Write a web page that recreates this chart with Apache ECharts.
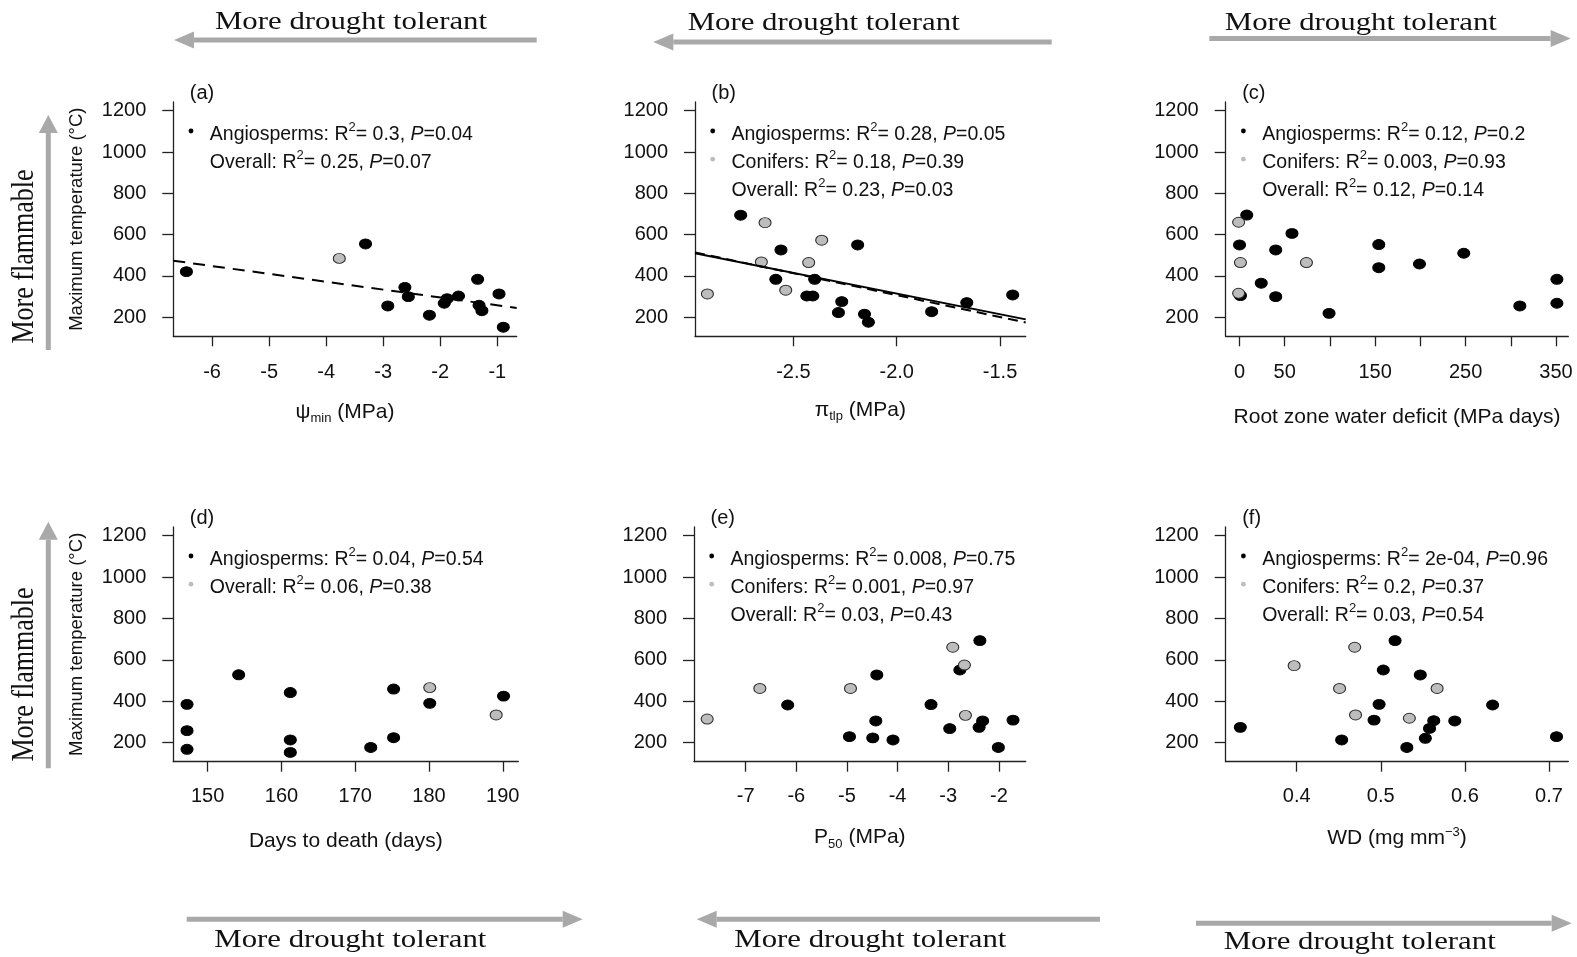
<!DOCTYPE html>
<html>
<head>
<meta charset="utf-8">
<script src="https://cdn.jsdelivr.net/npm/echarts@6/dist/echarts.min.js"></script>
<style>
  html, body { margin: 0; padding: 0; background: #fff; }
  #chart { width: 1577px; height: 957px; }
</style>
</head>
<body>
<div id="chart"></div>
<script>
// ---------------- data ----------------
const yTicks = [200, 400, 600, 800, 1000, 1200];

// (a) minimum water potential
const aTicks = [-6, -5, -4, -3, -2, -1];
const aAngX = [-6.45, -3.31, -2.92, -2.62, -2.56, -2.19, -1.93, -1.88, -1.68, -1.345, -1.32, -1.27, -0.97, -0.895];
const aAngY = [421, 555, 255, 345, 300, 210, 268, 290, 303, 384, 258, 232, 313, 152];
const aConX = [-3.77];
const aConY = [485];
const aLineX = [-6.68, -0.66];
const aLineY = [474, 245];
const statsA = [['Angiosperms', '0.3', '0.04'], ['Overall', '0.25', '0.07']];

// (b) turgor loss point
const bTicks = [-2.5, -2.0, -1.5];
const bAngX = [-2.755, -2.56, -2.585, -2.435, -2.406, -2.397, -2.282, -2.266, -2.189, -2.156, -2.137, -1.831, -1.661, -1.439];
const bAngY = [694, 526, 384, 303, 303, 384, 223, 276, 550, 215, 176, 227, 271, 308];
const bConX = [-2.916, -2.637, -2.655, -2.537, -2.426, -2.363];
const bConY = [313, 658, 468, 331, 465, 573];
const bLineX = [-2.976, -1.376];
const bLineY = [510, 190];
const bLine2X = [-2.976, -1.376];
const bLine2Y = [514, 175];
const statsB = [['Angiosperms', '0.28', '0.05'], ['Conifers', '0.18', '0.39'], ['Overall', '0.23', '0.03']];

// (c) root zone water deficit
const cTicks = [0, 50, 100, 150, 200, 250, 300, 350];
const cLabels = [0, 50, 150, 250, 350];
const cAngX = [8, 0, 58, 40, 24, 40, 1, 99, 154, 154, 199, 248, 310, 351, 351];
const cAngY = [695, 550, 606, 526, 365, 300, 305, 219, 552, 440, 458, 510, 255, 384, 268];
const cConX = [-1, 1, 74, -1];
const cConY = [660, 465, 465, 316];
const statsC = [['Angiosperms', '0.12', '0.2'], ['Conifers', '0.003', '0.93'], ['Overall', '0.12', '0.14']];

// (d) days to death
const dTicks = [150, 160, 170, 180, 190];
const dAngX = [147.2, 147.2, 147.2, 154.2, 161.2, 161.2, 161.2, 172.1, 175.2, 175.2, 180.1, 190.1];
const dAngY = [385, 258, 168, 528, 442, 213, 153, 177, 459, 224, 390, 425];
const dConX = [180.1, 189.1];
const dConY = [466, 334];
const statsD = [['Angiosperms', '0.04', '0.54'], ['Overall', '0.06', '0.38']];

// (e) P50
const eTicks = [-7, -6, -5, -4, -3, -2];
const eAngX = [-6.17, -4.95, -4.49, -4.41, -4.43, -4.09, -3.34, -2.97, -2.77, -2.375, -2.39, -2.32, -2.01, -1.72];
const eAngY = [382, 229, 223, 527, 305, 213, 384, 268, 551, 693, 274, 305, 177, 309];
const eConX = [-7.76, -6.72, -4.93, -2.91, -2.68, -2.66];
const eConY = [314, 462, 462, 661, 575, 332];
const statsE = [['Angiosperms', '0.008', '0.75'], ['Conifers', '0.001', '0.97'], ['Overall', '0.03', '0.43']];

// (f) wood density
const fTicks = [0.4, 0.5, 0.6, 0.7];
const fAngX = [0.333, 0.4535, 0.492, 0.498, 0.503, 0.517, 0.531, 0.547, 0.553, 0.558, 0.563, 0.588, 0.633, 0.709];
const fAngY = [274, 213, 309, 385, 551, 693, 177, 527, 221, 269, 306, 305, 382, 229];
const fConX = [0.397, 0.451, 0.469, 0.470, 0.534, 0.567];
const fConY = [572, 462, 661, 334, 318, 462];
const statsF = [['Angiosperms', '2e-04', '0.96'], ['Conifers', '0.2', '0.37'], ['Overall', '0.03', '0.54']];

// ---------------- styling ----------------
const SANS = 'Liberation Sans';
const SERIF = 'Liberation Serif';
const INK = '#111';
const GREY_PT = '#bdbdbd';
const ARROW = '#a9a9a9';
const Y_MIN = 108, Y_MAX = 1242;

const zip = (xs, ys) => xs.map((x, i) => [x, ys[i]]);

const panels = [
  { tag: '(a)', left: 173.3, top: 102, width: 343.4, height: 234.3, xMin: -6.68, xMax: -0.66,
    ticks: aTicks, labels: aTicks, digits: 0, title: '{n|ψ}{sub|min}{n| (MPa)}', titleGap: 76,
    ang: [aAngX, aAngY], con: [aConX, aConY], stats: statsA, dots: ['#000', null], yTitle: true,
    lines: [{ x: aLineX, y: aLineY, dash: [12, 8] }] },
  { tag: '(b)', left: 695, top: 102, width: 330.7, height: 234.3, xMin: -2.976, xMax: -1.376,
    ticks: bTicks, labels: bTicks, digits: 1, title: '{n|π}{sub|tlp}{n| (MPa)}', titleGap: 74,
    ang: [bAngX, bAngY], con: [bConX, bConY], stats: statsB, dots: ['#000', GREY_PT, null], yTitle: false,
    lines: [{ x: bLine2X, y: bLine2Y, dash: [10, 6] }, { x: bLineX, y: bLineY, dash: 'solid' }] },
  { tag: '(c)', left: 1225.7, top: 102, width: 342.6, height: 234.3, xMin: -15.3, xMax: 363.6,
    ticks: cTicks, labels: cLabels, digits: 0, title: 'Root zone water deficit (MPa days)', titleGap: 81,
    ang: [cAngX, cAngY], con: [cConX, cConY], stats: statsC, dots: ['#000', GREY_PT, null], yTitle: false,
    lines: [] },
  { tag: '(d)', left: 173.3, top: 527, width: 345, height: 234.7, xMin: 145.34, xMax: 192.1,
    ticks: dTicks, labels: dTicks, digits: 0, title: 'Days to death (days)', titleGap: 80,
    ang: [dAngX, dAngY], con: [dConX, dConY], stats: statsD, dots: ['#000', GREY_PT], yTitle: true,
    lines: [] },
  { tag: '(e)', left: 694, top: 527, width: 331.7, height: 234.7, xMin: -8.02, xMax: -1.47,
    ticks: eTicks, labels: eTicks, digits: 0, title: '{n|P}{sub|50}{n| (MPa)}', titleGap: 76,
    ang: [eAngX, eAngY], con: [eConX, eConY], stats: statsE, dots: ['#000', GREY_PT, null], yTitle: false,
    lines: [] },
  { tag: '(f)', left: 1225.7, top: 527, width: 342.6, height: 234.7, xMin: 0.3156, xMax: 0.723,
    ticks: fTicks, labels: fTicks, digits: 1, title: '{n|WD (mg mm}{sup|−3}{n|)}', titleGap: 77,
    ang: [fAngX, fAngY], con: [fConX, fConY], stats: statsF, dots: ['#000', GREY_PT, null], yTitle: false,
    lines: [] }
];

const titleRich = {
  n: { fontFamily: SANS, fontSize: 21, lineHeight: 26, color: INK },
  sub: { fontFamily: SANS, fontSize: 13, lineHeight: 16, verticalAlign: 'bottom', color: INK },
  sup: { fontFamily: SANS, fontSize: 13, lineHeight: 14, verticalAlign: 'top', color: INK }
};

const legendRich = {
  n: { fontFamily: SANS, fontSize: 19.5, lineHeight: 28, fill: INK },
  i: { fontFamily: SANS, fontSize: 19.5, fontStyle: 'italic', lineHeight: 28, fill: INK },
  sup: { fontFamily: SANS, fontSize: 13, lineHeight: 13, verticalAlign: 'top', fill: INK }
};

const grids = [], xAxes = [], yAxes = [], series = [], graphics = [];

panels.forEach((p, i) => {
  grids.push({ left: p.left, top: p.top, width: p.width, height: p.height, containLabel: false });

  xAxes.push({
    gridIndex: i, type: 'value', min: p.xMin, max: p.xMax,
    axisLine: { show: true, onZero: false, lineStyle: { color: '#222', width: 1.3 } },
    axisTick: { show: true, inside: false, length: 10, customValues: p.ticks, lineStyle: { color: '#222', width: 1.3 } },
    axisLabel: { show: true, margin: p.top < 300 ? 26 : 25, customValues: p.labels,
      fontFamily: SANS, fontSize: 20, color: INK,
      formatter: v => Number(v).toFixed(p.digits) },
    splitLine: { show: false },
    name: p.title, nameLocation: 'middle', nameGap: p.titleGap,
    nameTextStyle: { fontFamily: SANS, fontSize: 21, color: INK, verticalAlign: 'middle', align: 'center', rich: titleRich }
  });

  yAxes.push({
    gridIndex: i, type: 'value', min: Y_MIN, max: Y_MAX,
    axisLine: { show: true, onZero: false, lineStyle: { color: '#222', width: 1.3 } },
    axisTick: { show: true, inside: false, length: 11, customValues: yTicks, lineStyle: { color: '#222', width: 1.3 } },
    axisLabel: { show: true, margin: 27, customValues: yTicks, fontFamily: SANS, fontSize: 20, color: INK,
      formatter: v => String(v) },
    splitLine: { show: false },
    name: p.yTitle ? 'Maximum temperature (°C)' : '',
    nameLocation: 'middle', nameRotate: 90, nameGap: 96,
    nameTextStyle: { fontFamily: SANS, fontSize: 18.5, color: INK, verticalAlign: 'middle', align: 'center' }
  });

  p.lines.forEach(l => {
    series.push({
      type: 'line', xAxisIndex: i, yAxisIndex: i, data: zip(l.x, l.y),
      symbol: 'none', silent: true, z: 4,
      lineStyle: { color: '#000', width: 2, type: l.dash }
    });
  });

  series.push({
    name: 'Angiosperms', type: 'scatter', xAxisIndex: i, yAxisIndex: i, data: zip(p.ang[0], p.ang[1]),
    symbol: 'circle', symbolSize: [12, 10], z: 3,
    itemStyle: { color: '#000', borderColor: '#000', borderWidth: 1, opacity: 1 },
    emphasis: { disabled: true }
  });
  series.push({
    name: 'Conifers', type: 'scatter', xAxisIndex: i, yAxisIndex: i, data: zip(p.con[0], p.con[1]),
    symbol: 'circle', symbolSize: [12, 10], z: 3,
    itemStyle: { color: GREY_PT, borderColor: '#2a2a2a', borderWidth: 1, opacity: 1 },
    emphasis: { disabled: true }
  });

  // panel tag
  graphics.push({
    type: 'text', x: p.left + 16.5, y: p.top - 8.7, silent: true,
    style: { text: p.tag, fontFamily: SANS, fontSize: 20, fill: INK, align: 'left', verticalAlign: 'middle' }
  });

  // statistics legend
  p.stats.forEach((row, k) => {
    const ty = p.top + 32.5 + k * 28.2;
    const tx = p.left + 36.5;
    if (p.dots[k]) {
      graphics.push({ type: 'circle', x: tx - 18.8, y: ty - 3.5, silent: true,
        shape: { r: 2.4 }, style: { fill: p.dots[k] } });
    }
    graphics.push({
      type: 'text', x: tx, y: ty, silent: true,
      style: {
        text: `{n|${row[0]}: R}{sup|2}{n|= ${row[1]}, }{i|P}{n|=${row[2]}}`,
        rich: legendRich, fontFamily: SANS, fontSize: 19.5, fill: INK,
        align: 'left', verticalAlign: 'middle'
      }
    });
  });
});

// ---------------- annotation arrows ----------------
function hArrow(xFrom, xTip, y) {
  const dir = Math.sign(xTip - xFrom);
  const base = xTip - dir * 20;
  return [
    { type: 'line', silent: true, shape: { x1: xFrom, y1: y, x2: base, y2: y }, style: { stroke: ARROW, lineWidth: 5 } },
    { type: 'polygon', silent: true, shape: { points: [[xTip, y], [base, y - 8.5], [base, y + 8.5]] }, style: { fill: ARROW } }
  ];
}
function vArrow(x, yFrom, yTip) {
  const base = yTip + 18;
  return [
    { type: 'line', silent: true, shape: { x1: x, y1: yFrom, x2: x, y2: base }, style: { stroke: ARROW, lineWidth: 5 } },
    { type: 'polygon', silent: true, shape: { points: [[x, yTip], [x - 9.5, base], [x + 9.5, base]] }, style: { fill: ARROW } }
  ];
}
function serifLabel(text, cx, cy, rotated) {
  return {
    type: 'text', x: cx, y: cy, silent: true,
    rotation: rotated ? Math.PI / 2 : 0,
    scaleX: rotated ? 1 : 1.185,
    scaleY: rotated ? 1.18 : 1,
    style: { text, fontFamily: SERIF, fontSize: 26, fill: '#111', align: 'center', verticalAlign: 'middle' }
  };
}

const drought = 'More drought tolerant';
const flammable = 'More flammable';

graphics.push(...hArrow(536.7, 174, 40), serifLabel(drought, 351, 22, false));
graphics.push(...hArrow(1051.7, 653.3, 42), serifLabel(drought, 823.7, 23, false));
graphics.push(...hArrow(1209.3, 1570.7, 38.5), serifLabel(drought, 1360.8, 23, false));
graphics.push(...hArrow(186.7, 582.7, 919.3), serifLabel(drought, 350.3, 940, false));
graphics.push(...hArrow(1100, 696.7, 919.3), serifLabel(drought, 870.3, 940, false));
graphics.push(...hArrow(1196, 1571.7, 923.3), serifLabel(drought, 1359.7, 942, false));
graphics.push(...vArrow(48.3, 350, 115), serifLabel(flammable, 25, 256.5, true));
graphics.push(...vArrow(48.3, 768.3, 521.7), serifLabel(flammable, 25, 674.5, true));

const chart = echarts.init(document.getElementById('chart'), null, { renderer: 'canvas' });
chart.setOption({
  animation: false,
  backgroundColor: '#fff',
  textStyle: { fontFamily: SANS },
  grid: grids,
  xAxis: xAxes,
  yAxis: yAxes,
  series: series,
  graphic: graphics
});
</script>
</body>
</html>
